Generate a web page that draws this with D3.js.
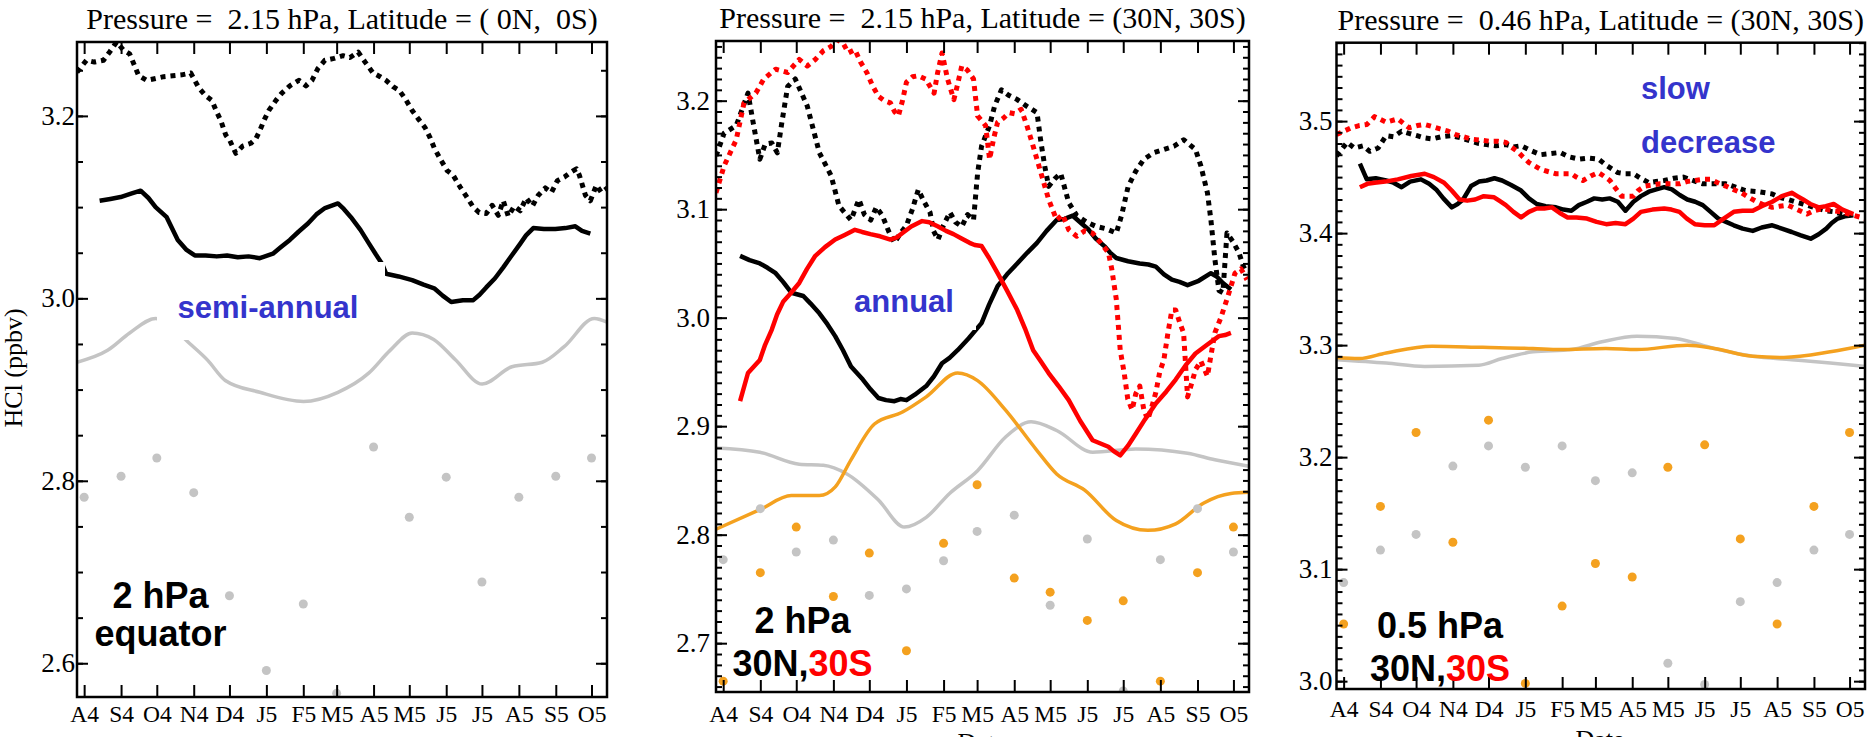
<!DOCTYPE html>
<html>
<head>
<meta charset="utf-8">
<script src="https://cdn.jsdelivr.net/npm/d3@7"></script>
<style>
  html, body { margin: 0; padding: 0; background: #fff; }
  svg { display: block; }
  text { white-space: pre; }
</style>
</head>
<body>
<svg id="chart" width="1876" height="737"></svg>
<script>
// ---------------------------------------------------------------
// HCl (ppbv) time series, Aug 2004 - Oct 2005.
// Observed series are [day since 2004-08-01, value];
// modelled curves likewise; monthly model points one per month.
// ---------------------------------------------------------------

const monthLabels = ["A4","S4","O4","N4","D4","J5","F5","M5","A5","M5","J5","J5","A5","S5","O5"];

const titles = [
  "Pressure =  2.15 hPa, Latitude = ( 0N,  0S)",
  "Pressure =  2.15 hPa, Latitude = (30N, 30S)",
  "Pressure =  0.46 hPa, Latitude = (30N, 30S)"
];

const yTicksEq   = [2.6, 2.8, 3.0, 3.2];
const yTicksMid2 = [2.7, 2.8, 2.9, 3.0, 3.1, 3.2];
const yTicksMid05 = [3.0, 3.1, 3.2, 3.3, 3.4, 3.5];

// ---- Panel 1 : 2.15 hPa, equator ----
const eqModelDots = [2.782, 2.805, 2.825, 2.787, 2.674, 2.592, 2.665, 2.567, 2.837, 2.760, 2.804, 2.689, 2.782, 2.805, 2.825];
const eqModelCurve = [[-6,2.930],[19.7,2.943],[38.2,2.962],[60.1,2.978],[73,2.970],[85.7,2.954],[103.8,2.932],[118.5,2.910],[147.5,2.897],[184.2,2.887],[213.1,2.897],[238.9,2.918],[256.9,2.943],[275.4,2.962],[293.5,2.955],[311.5,2.933],[334.2,2.906],[359.2,2.925],[384.7,2.930],[403,2.947],[428.4,2.978],[439,2.974]];
const eqSolid = [[13,3.107],[22,3.109],[30.6,3.111],[40,3.115],[47.4,3.118],[54,3.110],[60,3.100],[69.3,3.089],[78.6,3.064],[86,3.053],[92.9,3.047],[102,3.047],[111.4,3.046],[120,3.047],[129,3.045],[138,3.046],[147.5,3.044],[158.5,3.049],[165,3.056],[172.7,3.064],[180,3.073],[187.9,3.082],[195,3.092],[202.2,3.099],[213.1,3.104],[218,3.098],[224,3.089],[232,3.075],[239.2,3.060],[245,3.048],[250.1,3.038],[253.5,3.027],[264,3.024],[275.4,3.020],[285,3.015],[293.9,3.011],[301,3.003],[308.2,2.996],[318,2.998],[326.7,2.998],[332,3.004],[337.6,3.012],[345,3.022],[351.9,3.034],[359,3.047],[366.2,3.060],[371,3.069],[377.1,3.077],[386,3.076],[395.6,3.076],[404,3.077],[412.4,3.079],[418,3.074],[425,3.071]];
const eqDotted = [[-6,3.248],[2,3.261],[8.7,3.259],[16.3,3.261],[21.4,3.270],[27.3,3.281],[33.1,3.272],[38.2,3.268],[45.8,3.244],[52.5,3.239],[60,3.241],[66.8,3.243],[74.3,3.244],[81.9,3.245],[89.5,3.247],[96.2,3.231],[102.1,3.222],[107.2,3.217],[111.4,3.204],[114.7,3.195],[118.9,3.179],[122.3,3.173],[127.3,3.159],[133.2,3.167],[139.9,3.170],[144.2,3.175],[147.5,3.184],[151.7,3.197],[155.1,3.206],[161,3.217],[166,3.225],[172.7,3.233],[180.3,3.239],[186.2,3.233],[191.3,3.239],[196.3,3.252],[202.2,3.261],[209.8,3.263],[217.4,3.266],[223.2,3.264],[230,3.270],[235.9,3.259],[242.6,3.247],[248.5,3.243],[253.5,3.239],[259.4,3.232],[264.5,3.228],[269.5,3.219],[275.4,3.206],[280.4,3.197],[286.3,3.187],[290.5,3.176],[293.9,3.165],[298.9,3.153],[304.8,3.140],[309.8,3.135],[315.7,3.122],[320.8,3.112],[326.7,3.100],[331.7,3.094],[337.6,3.093],[342.6,3.102],[347.7,3.091],[351.9,3.107],[356.1,3.090],[361.2,3.101],[366.2,3.096],[371.2,3.110],[376.3,3.101],[381.3,3.113],[387.2,3.121],[392.3,3.116],[397.3,3.129],[403.2,3.133],[408.3,3.138],[413.3,3.142],[415.8,3.135],[420.9,3.113],[425,3.107],[430.1,3.124],[434.3,3.116],[439.3,3.121]];

// ---- Panel 2 : 2.15 hPa, 30N (black / grey) and 30S (red / orange) ----
const mid2DotsN = [2.777, 2.824, 2.784, 2.795, 2.744, 2.750, 2.776, 2.803, 2.818, 2.735, 2.796, 2.656, 2.777, 2.824, 2.784];
const mid2DotsS = [2.665, 2.765, 2.807, 2.743, 2.783, 2.693, 2.792, 2.846, 2.760, 2.747, 2.721, 2.739, 2.665, 2.765, 2.807];
const mid2CurveN = [[-6,2.880],[30.6,2.876],[63.5,2.865],[83.6,2.864],[103.3,2.856],[129.6,2.832],[151.3,2.807],[169.5,2.816],[189,2.838],[212.4,2.859],[235.8,2.890],[257.1,2.904],[278.4,2.896],[308.5,2.876],[344.5,2.879],[387.7,2.875],[410.5,2.869],[439,2.863]];
const mid2CurveS = [[-6,2.805],[30.6,2.823],[56.9,2.836],[80.3,2.836],[93.6,2.844],[106.7,2.869],[126.3,2.902],[149.7,2.913],[169.5,2.927],[195.7,2.949],[212.4,2.942],[235.6,2.915],[261.7,2.878],[278.4,2.856],[301.8,2.841],[328.2,2.813],[354.5,2.804],[377.8,2.810],[400.9,2.829],[423.9,2.838],[439,2.839]];
const mid2SolidN = [[14.1,3.057],[22,3.053],[30.6,3.050],[37,3.046],[43.8,3.041],[50,3.033],[56.9,3.023],[66.9,3.020],[73,3.013],[80.3,3.004],[87,2.994],[93.5,2.983],[100,2.970],[106.7,2.955],[116.6,2.943],[123,2.934],[129.6,2.926],[136,2.924],[143,2.923],[148,2.925],[153,2.924],[160,2.929],[169.5,2.937],[176,2.946],[182.7,2.958],[189,2.963],[195.7,2.970],[205,2.981],[215.7,2.995],[222,3.012],[229.1,3.029],[237,3.040],[245.5,3.050],[254,3.060],[262,3.069],[270,3.080],[278.4,3.090],[285,3.091],[291.8,3.094],[298,3.088],[305.2,3.081],[311,3.073],[318.2,3.066],[323,3.060],[328.2,3.055],[338,3.052],[347.8,3.050],[355,3.049],[361.2,3.047],[368,3.040],[374.6,3.035],[381,3.033],[387.7,3.030],[397,3.034],[407.2,3.041],[412,3.038],[417.2,3.032],[423.9,3.026]];
const mid2SolidS = [[14.1,2.923],[20.7,2.949],[30.6,2.961],[35,2.975],[40.6,2.989],[45,3.003],[50.2,3.015],[56,3.022],[63.5,3.032],[70,3.045],[76.9,3.057],[85,3.065],[93.5,3.072],[101,3.076],[110,3.081],[116,3.079],[122.9,3.077],[131,3.075],[139.6,3.072],[145,3.074],[149.7,3.078],[157,3.084],[166.1,3.089],[172,3.088],[179.4,3.084],[186,3.080],[192.3,3.077],[199,3.073],[205.7,3.069],[210,3.067],[215.7,3.066],[222,3.055],[229.1,3.041],[237,3.025],[245.5,3.007],[252,2.990],[258.8,2.970],[265,2.960],[271.7,2.949],[280,2.937],[288.5,2.924],[298,2.905],[308.4,2.887],[315,2.884],[321.6,2.881],[326,2.877],[331.5,2.873],[338,2.882],[344.5,2.893],[352,2.906],[361.2,2.921],[370,2.932],[377.8,2.943],[386,2.956],[394.3,2.967],[404,2.975],[413.9,2.983],[419,2.984],[423.9,2.986]];
const mid2DottedN = [[-6,3.149],[0.8,3.170],[10.9,3.177],[20.7,3.207],[25,3.180],[30.6,3.146],[35.1,3.160],[40.6,3.161],[45.2,3.152],[49,3.180],[53.8,3.213],[60.2,3.220],[70.2,3.195],[80.3,3.152],[90.1,3.131],[96.7,3.103],[106.7,3.090],[113.3,3.109],[117.9,3.095],[123.2,3.090],[127.9,3.102],[132.9,3.094],[138,3.080],[143,3.069],[148,3.078],[153,3.085],[158,3.100],[162.9,3.118],[167.2,3.108],[172.7,3.097],[175.6,3.080],[179.4,3.072],[183.9,3.085],[189.3,3.097],[194,3.088],[199.2,3.084],[204,3.095],[209,3.090],[212.4,3.133],[215.7,3.158],[222.4,3.177],[226.6,3.195],[232.3,3.210],[238.3,3.205],[245.5,3.201],[253.3,3.195],[262,3.189],[265,3.164],[268.4,3.140],[271.7,3.121],[276.8,3.128],[281.8,3.133],[288.5,3.106],[295.2,3.094],[303.5,3.088],[311.6,3.084],[319.4,3.082],[328.2,3.078],[332.8,3.095],[338.1,3.121],[344.5,3.135],[351.2,3.146],[359.5,3.152],[367.9,3.155],[376.3,3.158],[384.4,3.164],[394.3,3.155],[398.8,3.140],[404.3,3.115],[407.2,3.090],[410.5,3.054],[413.9,3.025],[417.2,3.023],[420.6,3.078],[425.6,3.070],[430.6,3.060],[434,3.048],[437.3,3.041]];
const mid2DottedS = [[-6,3.115],[0.8,3.140],[10.9,3.164],[17.4,3.198],[27.3,3.207],[33.9,3.220],[43.8,3.229],[53.8,3.226],[63.5,3.238],[70.2,3.232],[76.9,3.238],[83.6,3.246],[90.1,3.250],[95.3,3.256],[100.1,3.253],[104.5,3.244],[110,3.247],[114.5,3.236],[119.9,3.226],[124.6,3.214],[129.6,3.204],[134.6,3.200],[139.6,3.198],[143,3.190],[146.3,3.186],[149.7,3.200],[153,3.217],[158,3.222],[162.9,3.223],[168.9,3.220],[176.1,3.207],[178.9,3.225],[182.7,3.244],[187.3,3.220],[192.6,3.201],[195.7,3.215],[199.2,3.232],[204,3.228],[209,3.220],[212.4,3.186],[219.1,3.177],[222.4,3.146],[225.8,3.165],[229.1,3.180],[234.1,3.184],[238.9,3.189],[243.3,3.188],[248.8,3.192],[253.3,3.178],[258.8,3.158],[265.4,3.133],[271.7,3.109],[278.4,3.090],[283.4,3.095],[288.5,3.081],[295.2,3.075],[301.8,3.080],[308.4,3.078],[314.4,3.070],[321.6,3.060],[324.4,3.045],[328.2,3.017],[331.5,2.970],[334.8,2.949],[337.8,2.925],[341.4,2.915],[344.5,2.930],[347.8,2.937],[351.2,2.915],[354.5,2.906],[357.9,2.918],[361.2,2.931],[364.5,2.950],[367.9,2.961],[371.2,2.985],[374.6,3.007],[377.8,3.007],[381.3,2.995],[384.4,2.986],[387.7,2.927],[391.3,2.940],[394.3,2.952],[398.8,2.960],[404.3,2.946],[407.2,2.965],[410.5,2.986],[415.5,3.000],[420.6,3.017],[427.3,3.041],[432.3,3.045],[437.3,3.035]];

// ---- Panel 3 : 0.46 hPa, 30N (black / grey) and 30S (red / orange) ----
const mid05DotsN = [3.088, 3.117, 3.131, 3.192, 3.210, 3.191, 3.210, 3.179, 3.186, 3.016, 2.997, 3.071, 3.088, 3.117, 3.131];
const mid05DotsS = [3.051, 3.156, 3.222, 3.124, 3.233, 2.998, 3.067, 3.105, 3.093, 3.191, 3.211, 3.127, 3.051, 3.156, 3.222];
const mid05CurveN = [[-6,3.287],[35.8,3.284],[68.3,3.281],[113.8,3.282],[133.4,3.288],[159.5,3.294],[191.8,3.296],[217.5,3.303],[246.9,3.308],[279.7,3.306],[312.1,3.297],[344.5,3.290],[377.3,3.287],[409.7,3.284],[439,3.281]];
const mid05CurveS = [[-6,3.289],[13.1,3.288],[35.8,3.293],[74.5,3.299],[117.1,3.298],[159.5,3.297],[182.2,3.296],[220.9,3.297],[246.9,3.296],[289.4,3.300],[312.1,3.297],[344.5,3.290],[370.6,3.289],[409.7,3.294],[439,3.300]];
const mid05SolidN = [[13.7,3.462],[19.5,3.448],[27,3.449],[35.8,3.447],[42,3.445],[48.8,3.441],[56,3.446],[65.1,3.448],[72,3.444],[77.9,3.439],[84,3.431],[91.1,3.423],[96,3.426],[100.6,3.430],[107.3,3.442],[114,3.446],[120.4,3.447],[127,3.449],[133.4,3.447],[141,3.443],[149.4,3.438],[156,3.431],[162.6,3.426],[170,3.424],[178.8,3.423],[185,3.421],[191.8,3.420],[198,3.425],[204.9,3.428],[211,3.431],[217.8,3.430],[224,3.431],[230.9,3.428],[237.3,3.420],[244,3.428],[250.3,3.433],[257,3.437],[263.3,3.439],[270,3.441],[276.4,3.439],[283,3.434],[289.4,3.430],[296,3.428],[302.4,3.425],[309,3.419],[315.4,3.413],[322,3.410],[328.5,3.407],[336,3.404],[344.5,3.402],[352,3.405],[360.9,3.407],[369,3.404],[377.3,3.401],[385,3.398],[393.3,3.395],[400,3.399],[406.4,3.404],[411,3.409],[416,3.413],[422,3.415],[429.2,3.416]];
const mid05SolidS = [[13.7,3.441],[20,3.444],[26.1,3.445],[35,3.446],[45.6,3.448],[57,3.451],[68.3,3.453],[76,3.450],[84.6,3.445],[91,3.438],[97.6,3.430],[104,3.429],[110.7,3.430],[118,3.433],[126.7,3.432],[131,3.429],[136.6,3.425],[143,3.419],[149.4,3.414],[156,3.419],[162.6,3.422],[169,3.422],[175.4,3.423],[182,3.418],[188.6,3.414],[196,3.414],[204.9,3.413],[213,3.410],[221.1,3.408],[229,3.409],[237.3,3.408],[244,3.413],[250.3,3.419],[260,3.421],[269.9,3.422],[276,3.421],[282.8,3.419],[289,3.413],[295.7,3.408],[304,3.407],[312.1,3.407],[320,3.413],[328.5,3.419],[336,3.420],[344.5,3.420],[352,3.424],[360.9,3.428],[369,3.433],[377.3,3.436],[382,3.433],[386.9,3.430],[393,3.426],[400,3.423],[406,3.424],[412.6,3.426],[420,3.421],[429.2,3.417]];
const mid05DottedN = [[-6,3.469],[3,3.481],[9,3.476],[16.3,3.478],[22,3.473],[29.1,3.476],[35.8,3.487],[42,3.486],[48.8,3.491],[55,3.489],[61.9,3.487],[68,3.485],[74.5,3.484],[82,3.486],[91.1,3.487],[99,3.485],[107.3,3.482],[114,3.480],[120.4,3.479],[128,3.478],[136.6,3.479],[143,3.477],[149.4,3.478],[157,3.474],[165.9,3.470],[174,3.471],[182.2,3.472],[190,3.468],[198.2,3.466],[206,3.467],[214.6,3.466],[222,3.460],[230.9,3.454],[237,3.453],[243.9,3.453],[250,3.449],[257,3.445],[263,3.446],[269.9,3.447],[278,3.449],[286.1,3.450],[294,3.447],[302.4,3.444],[312,3.444],[321.8,3.444],[330,3.441],[338.2,3.438],[349,3.437],[360.9,3.435],[367,3.432],[373.9,3.430],[380,3.428],[386.9,3.426],[393,3.424],[400,3.422],[406,3.420],[413,3.419],[420,3.417],[426.1,3.416]];
const mid05DottedS = [[-6,3.488],[6.4,3.494],[13,3.496],[19.5,3.497],[26.1,3.504],[35.8,3.499],[45.6,3.502],[55.2,3.494],[62,3.496],[68.3,3.497],[75,3.495],[81.2,3.493],[88,3.491],[94.3,3.488],[101,3.486],[107.3,3.484],[115,3.483],[123.3,3.482],[130,3.482],[136.6,3.481],[141,3.477],[146.3,3.473],[151,3.468],[156.1,3.463],[161,3.460],[165.9,3.457],[172,3.455],[178.8,3.453],[185,3.453],[191.8,3.453],[196,3.450],[201.5,3.447],[208,3.451],[214.6,3.454],[219,3.451],[224.2,3.447],[229,3.440],[234.1,3.433],[239,3.433],[243.9,3.433],[248,3.438],[253.7,3.442],[260,3.443],[266.6,3.444],[274,3.444],[282.8,3.444],[289,3.446],[295.7,3.447],[302,3.448],[308.9,3.448],[315,3.445],[321.8,3.442],[328,3.439],[334.9,3.436],[341,3.432],[347.9,3.428],[354,3.425],[360.9,3.423],[367,3.424],[373.9,3.425],[382,3.421],[390.2,3.417],[396,3.420],[403.2,3.422],[411,3.420],[419.3,3.419],[429,3.416],[439,3.413]];

// ---------------------------------------------------------------
const BASE = Date.UTC(2004, 7, 1);
const toDate = d => new Date(BASE + d * 864e5);
const xDomain = [toDate(-6), toDate(439)];
const monthTicks = d3.utcMonths(toDate(0), toDate(427));   // 1st of each month, Aug 2004 .. Oct 2005

const BLACK = "#000000", RED = "#ff0000", GREY = "#c4c4c4", ORANGE = "#f4a11f", BLUE = "#3434cc";
const SERIF = "'Liberation Serif', 'Times New Roman', serif";
const SANS = "'Liberation Sans', Arial, sans-serif";

const panels = [
  {
    title: titles[0], l: 77, r: 607, t: 42, b: 697, yDomain: [2.563, 3.281],
    yTicks: yTicksEq, minorCount: 15, yPad: 2, xPad: 8,
    curves: [{ data: eqModelCurve, color: GREY }],
    dots: [{ values: eqModelDots, color: GREY }],
    lines: [
      { data: eqDotted, color: BLACK, dashed: true },
      { data: eqSolid, color: BLACK, dashed: false }
    ]
  },
  {
    title: titles[1], l: 716, r: 1249, t: 41, b: 692, yDomain: [2.655, 3.255],
    yTicks: yTicksMid2, minorCount: 60, yPad: 6, xPad: 13,
    curves: [{ data: mid2CurveN, color: GREY }, { data: mid2CurveS, color: ORANGE }],
    dots: [{ values: mid2DotsN, color: GREY }, { values: mid2DotsS, color: ORANGE }],
    lines: [
      { data: mid2DottedN, color: BLACK, dashed: true },
      { data: mid2SolidN, color: BLACK, dashed: false },
      { data: mid2DottedS, color: RED, dashed: true },
      { data: mid2SolidS, color: RED, dashed: false }
    ]
  },
  {
    title: titles[2], l: 1336.5, r: 1865, t: 42.7, b: 689, yDomain: [2.993, 3.570],
    yTicks: yTicksMid05, minorCount: 58, yPad: 4, xPad: 11,
    curves: [{ data: mid05CurveN, color: GREY }, { data: mid05CurveS, color: ORANGE }],
    dots: [{ values: mid05DotsN, color: GREY }, { values: mid05DotsS, color: ORANGE }],
    lines: [
      { data: mid05DottedN, color: BLACK, dashed: true },
      { data: mid05SolidN, color: BLACK, dashed: false },
      { data: mid05DottedS, color: RED, dashed: true },
      { data: mid05SolidS, color: RED, dashed: false }
    ]
  }
];

const svg = d3.select("#chart");
const defs = svg.append("defs");

function styleAxis(sel, size) {
  sel.select(".domain").remove();
  sel.selectAll(".tick line").attr("stroke", BLACK).attr("stroke-width", 2);
  sel.selectAll(".tick text").attr("fill", BLACK)
    .style("font-family", SERIF).style("font-size", size + "px");
}

panels.forEach((p, i) => {
  const x = d3.scaleUtc().domain(xDomain).range([p.l, p.r]);
  const y = d3.scaleLinear().domain(p.yDomain).range([p.b, p.t]);
  const g = svg.append("g").attr("class", "panel");

  defs.append("clipPath").attr("id", "plot-clip-" + i)
    .append("rect").attr("x", p.l).attr("y", p.t)
    .attr("width", p.r - p.l).attr("height", p.b - p.t);

  const plot = g.append("g").attr("clip-path", `url(#plot-clip-${i})`);

  // modelled smooth curves
  const smooth = d3.line().curve(d3.curveMonotoneX)
    .x(d => x(toDate(d[0]))).y(d => y(d[1]));
  p.curves.forEach(c => {
    plot.append("path").datum(c.data).attr("d", smooth)
      .attr("fill", "none").attr("stroke", c.color).attr("stroke-width", 3.5);
  });

  // monthly model points
  p.dots.forEach(s => {
    plot.append("g").selectAll("circle").data(s.values).join("circle")
      .attr("cx", (d, k) => x(monthTicks[k]))
      .attr("cy", d => y(d))
      .attr("r", 4.5).attr("fill", s.color);
  });

  // observed daily series
  const obs = d3.line().x(d => x(toDate(d[0]))).y(d => y(d[1]));
  p.lines.forEach(s => {
    plot.append("path").datum(s.data).attr("d", obs)
      .attr("fill", "none").attr("stroke", s.color)
      .attr("stroke-width", s.dashed ? 5 : 4.5)
      .attr("stroke-dasharray", s.dashed ? "5,5" : null)
      .attr("stroke-linejoin", "round");
  });

  // axes, ticks pointing inwards on all four sides
  g.append("g").attr("transform", `translate(0,${p.b})`)
    .call(d3.axisBottom(x).tickValues(monthTicks).tickSizeInner(-12).tickSizeOuter(0)
      .tickPadding(p.xPad).tickFormat((d, k) => monthLabels[k]))
    .call(sel => styleAxis(sel, 23.5));
  g.append("g").attr("transform", `translate(0,${p.t})`)
    .call(d3.axisTop(x).tickValues(monthTicks).tickSizeInner(-12).tickSizeOuter(0).tickFormat(""))
    .call(sel => styleAxis(sel, 23.5));

  const minor = y.ticks(p.minorCount);
  g.append("g").attr("transform", `translate(${p.l},0)`)
    .call(d3.axisLeft(y).tickValues(minor).tickSizeInner(-6).tickSizeOuter(0).tickFormat(""))
    .call(sel => styleAxis(sel, 27));
  g.append("g").attr("transform", `translate(${p.l},0)`)
    .call(d3.axisLeft(y).tickValues(p.yTicks).tickSizeInner(-11).tickSizeOuter(0)
      .tickPadding(p.yPad).tickFormat(d3.format(".1f")))
    .call(sel => styleAxis(sel, 27));
  g.append("g").attr("transform", `translate(${p.r},0)`)
    .call(d3.axisRight(y).tickValues(minor).tickSizeInner(-6).tickSizeOuter(0).tickFormat(""))
    .call(sel => styleAxis(sel, 27));
  g.append("g").attr("transform", `translate(${p.r},0)`)
    .call(d3.axisRight(y).tickValues(p.yTicks).tickSizeInner(-11).tickSizeOuter(0).tickFormat(""))
    .call(sel => styleAxis(sel, 27));

  g.append("rect").attr("x", p.l).attr("y", p.t)
    .attr("width", p.r - p.l).attr("height", p.b - p.t)
    .attr("fill", "none").attr("stroke", BLACK).attr("stroke-width", 2.5);

  g.append("text").attr("x", (p.l + p.r) / 2).attr("y", p.t - 13)
    .attr("text-anchor", "middle").style("font-family", SERIF).style("font-size", "30px")
    .text(p.title);
});

// axis titles
svg.append("text").attr("transform", "translate(22,368) rotate(-90)")
  .attr("text-anchor", "middle").style("font-family", SERIF).style("font-size", "26px")
  .text("HCl (ppbv)");

defs.append("clipPath").attr("id", "ylab-clip")
  .append("rect").attr("x", 656).attr("y", 290).attr("width", 12).attr("height", 160);
svg.append("text").attr("clip-path", "url(#ylab-clip)")
  .attr("transform", "translate(661,368) rotate(-90)")
  .attr("text-anchor", "middle").attr("fill", "#555")
  .style("font-family", SERIF).style("font-size", "26px")
  .text("HCl (ppbv)");

[[982, 751], [1600, 748]].forEach(([cx, by]) => {
  svg.append("text").attr("x", cx).attr("y", by).attr("text-anchor", "middle")
    .style("font-family", SERIF).style("font-size", "26px").text("Date");
});

// annotation boxes and labels
function blueLabel(lines, x, anchor, boxRect) {
  if (boxRect) {
    svg.append("rect").attr("x", boxRect[0]).attr("y", boxRect[1])
      .attr("width", boxRect[2]).attr("height", boxRect[3]).attr("fill", "#fff");
  }
  lines.forEach(([txt, by]) => {
    svg.append("text").attr("x", x).attr("y", by).attr("text-anchor", anchor)
      .attr("fill", BLUE).style("font-family", SANS).style("font-weight", "bold")
      .style("font-size", "31px").text(txt);
  });
}
blueLabel([["semi-annual", 318]], 268, "middle", [157, 262, 228, 78]);
blueLabel([["annual", 311.5]], 904, "middle", [834, 253, 142, 77]);
blueLabel([["slow", 99], ["decrease", 152.5]], 1641, "start", null);

function siteLabel(x, rows) {
  rows.forEach(([parts, by]) => {
    const t = svg.append("text").attr("x", x).attr("y", by).attr("text-anchor", "middle")
      .style("font-family", SANS).style("font-weight", "bold").style("font-size", "36px");
    parts.forEach(([s, c]) => t.append("tspan").attr("fill", c).text(s));
  });
}
siteLabel(160.5, [[[["2 hPa", BLACK]], 608], [[["equator", BLACK]], 645.5]]);
siteLabel(802.5, [[[["2 hPa", BLACK]], 633], [[["30N,", BLACK], ["30S", RED]], 676]]);
siteLabel(1440, [[[["0.5 hPa", BLACK]], 638], [[["30N,", BLACK], ["30S", RED]], 681]]);
</script>
</body>
</html>
